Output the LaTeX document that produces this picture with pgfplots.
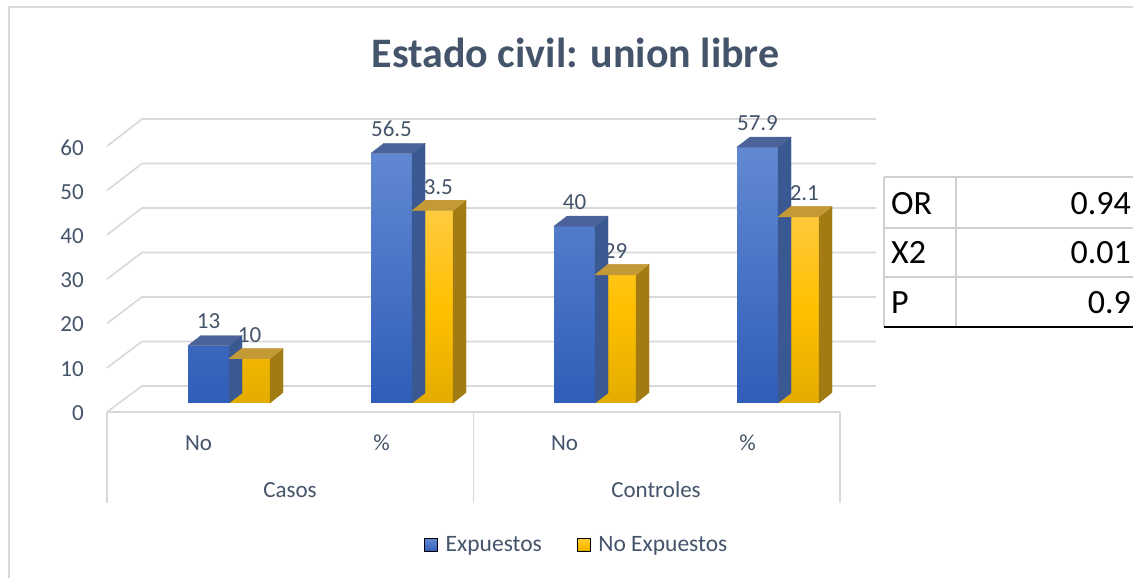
\documentclass[border=0pt]{standalone}
\usepackage{pgfplots}
\pgfplotsset{compat=1.18}
\usepackage{pgfplotstable}
\usepackage{fontspec}
\setmainfont{Carlito}
\definecolor{txt}{HTML}{44546A}
\definecolor{gridc}{HTML}{D9D9D9}
\definecolor{tabc}{HTML}{D0D0D0}
\definecolor{bTop}{HTML}{6289D2}
\definecolor{bBot}{HTML}{2F5DB8}
\definecolor{bSide}{HTML}{3A5892}
\definecolor{bCap}{HTML}{4B6399}
\definecolor{yTop}{HTML}{FFCA40}
\definecolor{yMid}{HTML}{FFC000}
\definecolor{yBot}{HTML}{E3AC00}
\definecolor{ySide}{HTML}{A27C12}
\definecolor{yCap}{HTML}{C39A36}
\pgfdeclareplotmark{void}{}

\pgfplotstableread{
x e n
0 13 10
1 56.5 43.5
2 40 29
3 57.9 42.1
}\datatable

\begin{document}
\begin{tikzpicture}
\useasboundingbox (0,0) rectangle (1133pt,578pt);
\fill[white] (0,0) rectangle (1133pt,578pt);
\begin{scope}[x=1pt,y=-1pt,yshift=578pt]
  % chart frame
  \draw[gridc, line width=1.5pt] (9,578) -- (9,7) -- (1140,7);
  % 3D walls / gridlines
  \foreach \v in {0,10,...,60}{
    \draw[gridc, line width=1.6pt] (107,{412-\v*4.43}) -- (142,{386-\v*4.45}) -- (876,{386-\v*4.45});
  }
  \draw[gridc, line width=1.6pt] (107,412) -- (840,412);
  \foreach \xx in {107,473.5,840}{\draw[gridc, line width=1.6pt] (\xx,412) -- (\xx,503);}
  % group labels
  \node[font=\fontsize{23}{27}\selectfont, text=txt] at (290,490) {Casos};
  \node[font=\fontsize{23}{27}\selectfont, text=txt] at (656,490) {Controles};
  % title
  \node[anchor=base, font=\fontsize{42}{50}\selectfont\bfseries, text=txt, inner sep=0pt] at (575.5,68) {Estado civil: union libre};
  % statistics table
  \foreach \yy in {177,228,277}{\draw[tabc, line width=1.5pt] (884,\yy) -- (1140,\yy);}
  \draw[tabc, line width=1.5pt] (884,177) -- (884,327);
  \draw[tabc, line width=1.5pt] (956,177) -- (956,327);
  \draw[black, line width=2pt] (884,327) -- (1140,327);
  \begin{scope}[every node/.style={font=\fontsize{34}{40}\selectfont, inner sep=0pt, text=black}]
    \node[anchor=base west] at (891,215) {OR};
    \node[anchor=base east] at (1131,215) {0.94};
    \node[anchor=base west] at (891,264) {X2};
    \node[anchor=base east] at (1131,264) {0.01};
    \node[anchor=base west] at (891,314) {P};
    \node[anchor=base east] at (1131,314) {0.9};
  \end{scope}
\end{scope}

\begin{axis}[
  at={(107pt,175pt)}, anchor=south west,
  x=183pt, y=4.42pt,
  xmin=-0.6667, xmax=3.3388, ymin=0, ymax=62,
  clip=false,
  axis line style={draw=none},
  tick style={draw=none},
  major tick length=0pt,
  ytick={0,10,...,60},
  xtick={0,1,2,3}, xticklabels={No,\%,No,\%},
  /pgf/number format/assume math mode=true,
  yticklabel style={anchor=east, inner sep=0pt, xshift=-23pt, yshift=-10pt, font=\fontsize{23}{27}\selectfont, text=txt},
  xticklabel style={anchor=center, inner sep=0pt, xshift=-30.5pt, yshift=-40pt, font=\fontsize{23}{27}\selectfont, text=txt},
  legend columns=2,
  legend style={at={(0.641,-0.518)}, anchor=center, draw=none, fill=none,
    font=\fontsize{23.5}{28}\selectfont, text=txt,
    /tikz/every even column/.append style={column sep=33pt}},
  lbl/.style={nodes near coords, every node near coord/.append style={anchor=center, xshift=#1, yshift=24pt, font=\fontsize{23}{27}\selectfont, text=txt}},
]
% yellow labels (drawn first: partly hidden by blue bars)
\addplot[ybar, bar width=41pt, bar shift=20.5pt, draw=none, fill=none, forget plot, lbl=20.5pt]
  table[x=x,y=n]{\datatable};
% blue front faces
\addplot[ybar, bar width=41pt, bar shift=-20.5pt, draw=none, top color=bTop, bottom color=bBot, forget plot]
  table[x=x,y=e]{\datatable};
% blue side and top faces
\addplot[scatter, only marks, mark=void, forget plot,
  visualization depends on={\thisrow{e}\as\ry},
  scatter/@pre marker code/.code={%
    \pgfmathsetmacro\hh{\ry*4.42}%
    \fill[bSide] (0pt,0pt) -- (13pt,10pt) -- (13pt,10pt-\hh pt) -- (0pt,-\hh pt) -- cycle;
    \fill[bCap] (-41pt,0pt) -- (-28pt,10pt) -- (13pt,10pt) -- (0pt,0pt) -- cycle;
  },
  scatter/@post marker code/.code={}]
  table[x=x,y=e]{\datatable};
% yellow front faces
\addplot[ybar, bar width=41pt, bar shift=20.5pt, draw=none, top color=yTop, bottom color=yBot, middle color=yMid, forget plot]
  table[x=x,y=n]{\datatable};
% yellow side and top faces
\addplot[scatter, only marks, mark=void, forget plot,
  visualization depends on={\thisrow{n}\as\ry},
  scatter/@pre marker code/.code={%
    \pgfmathsetmacro\hh{\ry*4.42}%
    \fill[ySide] (41pt,0pt) -- (54pt,10.5pt) -- (54pt,10.5pt-\hh pt) -- (41pt,-\hh pt) -- cycle;
    \fill[yCap] (0pt,0pt) -- (13pt,10.5pt) -- (54pt,10.5pt) -- (41pt,0pt) -- cycle;
  },
  scatter/@post marker code/.code={}]
  table[x=x,y=n]{\datatable};
% blue labels
\addplot[ybar, bar width=41pt, bar shift=-20.5pt, draw=none, fill=none, forget plot, lbl=-20.5pt]
  table[x=x,y=e]{\datatable};
\addlegendimage{legend image code/.code={\shade[top color=bTop, bottom color=bBot] (0pt,-6.5pt) rectangle (13pt,6.5pt); \path (19pt,0pt);}}
\addlegendentry{Expuestos}
\addlegendimage{legend image code/.code={\shade[top color=yTop, bottom color=yBot, middle color=yMid] (0pt,-6.5pt) rectangle (13pt,6.5pt); \path (19pt,0pt);}}
\addlegendentry{No Expuestos}
\end{axis}
\end{tikzpicture}
\end{document}
